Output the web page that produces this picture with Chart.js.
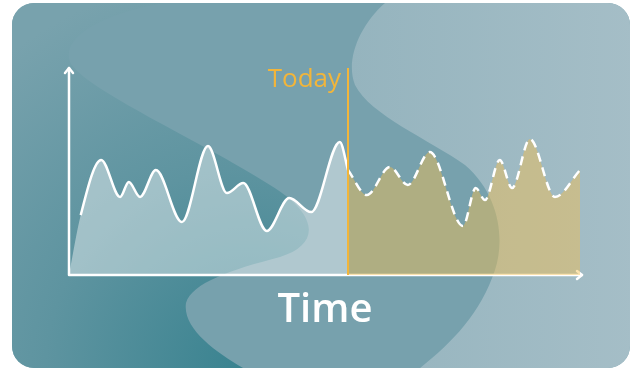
<!DOCTYPE html>
<html>
<head>
<meta charset="utf-8">
<script src="https://cdn.jsdelivr.net/npm/chart.js@4"></script>
<style>
html, body { margin: 0; padding: 0; background: #fff; }
#wrap { width: 636px; height: 372px; }
</style>
</head>
<body>
<div id="wrap"><canvas id="graficoTiempo" width="636" height="372"></canvas></div>
<script>
// ==============================
// DATOS
// ==============================

// pasado (linea solida) - el primer punto es solo para el relleno
const pastTime  = [0, 2.3, 6.3, 10.0, 11.7, 13.9, 17.0, 22.1, 27.2, 30.9, 34.1, 38.7, 43.1, 47.4, 53.0, 54.6];
const pastValue = [0, 29, 55.6, 37.7, 44.9, 37.7, 50.7, 25.6, 62.3, 39.6, 44.4, 21.3, 37.2, 30.4, 64.3, 50.7];

// futuro (linea discontinua)
const futureTime  = [54.6, 58.3, 62.8, 66.3, 70.6, 77.1, 79.6, 81.4, 84.3, 86.7, 90.2, 95.1, 100];
const futureValue = [50.7, 38.6, 52.2, 43.5, 59.4, 23.7, 42.0, 36.2, 55.6, 42.0, 65.7, 37.7, 50.7];

const todayTime = 54.6;
const todayLabel = "Today";
const axisLabel = "Time";

const amarillo = "#f2b53a";

// ==============================
// FONDO DE LA TARJETA
// ==============================

const fondoPlugin = {
id: "fondo",
beforeDraw(chart){
const c = chart.ctx;
c.save();
c.fillStyle = "#ffffff";
c.fillRect(0, 0, chart.width, chart.height);

c.beginPath();
c.roundRect(12, 3, 618, 365, 22);
c.clip();

// banda media
c.fillStyle = "#77a1ad";
c.fillRect(0, 0, chart.width, chart.height);

// zona oscura izquierda
let g = c.createRadialGradient(250, 372, 10, 250, 372, 400);
g.addColorStop(0, "#3a8390");
g.addColorStop(0.5, "#5e94a0");
g.addColorStop(1, "#78a2ad");
c.fillStyle = g;
c.beginPath();
c.moveTo(12, 3);
c.lineTo(165, 3);
c.bezierCurveTo(110, 12, 60, 35, 70, 62);
c.bezierCurveTo(85, 90, 200, 140, 270, 185);
c.bezierCurveTo(320, 215, 320, 245, 280, 257);
c.bezierCurveTo(230, 270, 192, 283, 186, 303);
c.bezierCurveTo(182, 330, 220, 355, 250, 372);
c.lineTo(12, 372);
c.closePath();
c.fill();

// zona clara derecha
let g2 = c.createLinearGradient(350, 0, 636, 0);
g2.addColorStop(0, "#95b4be");
g2.addColorStop(1, "#a5bec7");
c.fillStyle = g2;
c.beginPath();
c.moveTo(385, 3);
c.bezierCurveTo(360, 25, 345, 60, 355, 85);
c.bezierCurveTo(370, 115, 430, 140, 465, 165);
c.bezierCurveTo(500, 195, 505, 240, 495, 270);
c.bezierCurveTo(480, 315, 450, 345, 415, 372);
c.lineTo(636, 372);
c.lineTo(636, 0);
c.lineTo(385, 0);
c.closePath();
c.fill();

c.restore();
},

beforeDatasetsDraw(chart){
// ejes con flechas
const c = chart.ctx;
const a = chart.chartArea;
c.save();
c.strokeStyle = "#ffffff";
c.lineWidth = 2.5;
c.lineCap = "round";
c.lineJoin = "round";
c.beginPath();
c.moveTo(a.left, a.top);
c.lineTo(a.left, a.bottom);
c.lineTo(a.right + 2, a.bottom);
c.stroke();
c.beginPath();
c.moveTo(a.left - 4, a.top + 5);
c.lineTo(a.left, a.top);
c.lineTo(a.left + 4, a.top + 5);
c.moveTo(a.right - 3, a.bottom - 4);
c.lineTo(a.right + 2, a.bottom);
c.lineTo(a.right - 3, a.bottom + 4);
c.stroke();
c.restore();
},

afterDatasetsDraw(chart){
const c = chart.ctx;
const a = chart.chartArea;
const xHoy = chart.scales.x.getPixelForValue(todayTime);
c.save();
c.strokeStyle = amarillo;
c.lineWidth = 2;
c.beginPath();
c.moveTo(xHoy, a.top);
c.lineTo(xHoy, a.bottom);
c.stroke();

c.fillStyle = amarillo;
c.font = "26px 'Open Sans'";
c.textAlign = "right";
c.textBaseline = "alphabetic";
c.fillText(todayLabel, xHoy - 7, a.top + 19);

c.fillStyle = "#ffffff";
c.font = "600 40px 'Open Sans'";
c.textAlign = "center";
c.fillText(axisLabel, 325, 322);
c.restore();
}
};

// ==============================
// GRAFICO
// ==============================

const ctx = document.getElementById("graficoTiempo").getContext("2d");

let grafico = new Chart(ctx, {

type: "line",

data: {
datasets: [{
label: "Pasado",
data: pastTime.map((t, i) => ({ x: t, y: pastValue[i] })),
borderColor: "#ffffff",
borderWidth: 2.5,
// el primer tramo (desde el origen) no se dibuja
borderDash: [0, 61, 5000, 0],
backgroundColor: "rgba(255,255,255,0.42)",
fill: "origin",
cubicInterpolationMode: "monotone",
pointRadius: 0
},{
label: "Futuro",
data: futureTime.map((t, i) => ({ x: t, y: futureValue[i] })),
borderColor: "#ffffff",
borderWidth: 2.5,
borderDash: [9, 6],
backgroundColor: "rgba(243,190,78,0.45)",
fill: "origin",
cubicInterpolationMode: "monotone",
pointRadius: 0
}]
},

options: {
responsive: false,
animation: false,
clip: false,
layout: { padding: { left: 69, right: 56, top: 68, bottom: 97 } },
plugins: {
legend: { display: false },
tooltip: { enabled: false }
},
scales: {
x: { type: "linear", min: 0, max: 100, display: false },
y: { min: 0, max: 100, display: false }
}
},

plugins: [fondoPlugin]

});
</script>
</body>
</html>
